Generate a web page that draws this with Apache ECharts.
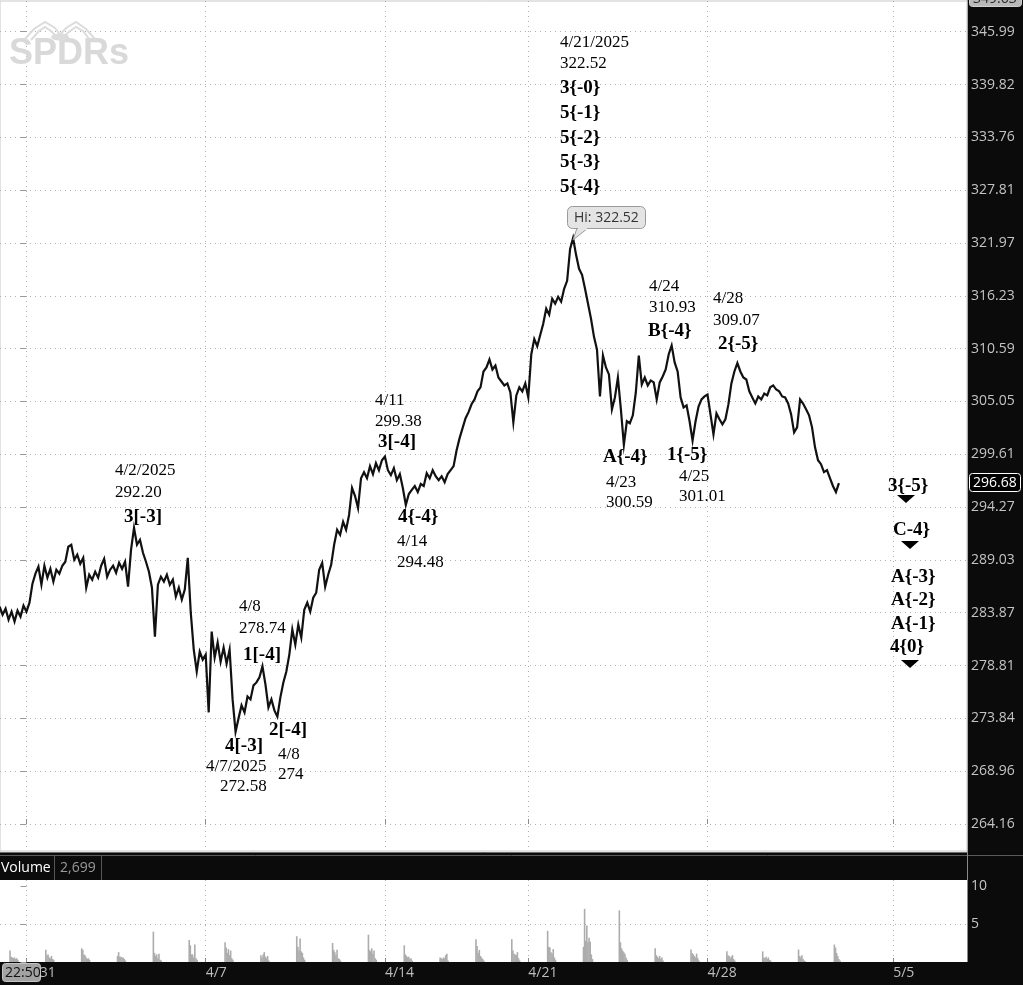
<!DOCTYPE html>
<html><head><meta charset="utf-8">
<script src="https://cdn.jsdelivr.net/npm/echarts@6/dist/echarts.min.js"></script>
<style>html,body{margin:0;padding:0;background:#fff;overflow:hidden}#c{width:1023px;height:985px;}</style>
</head><body><div id="c"></div>
<script>
// ---------------- DATA ----------------
const priceTickLabels = ['264.16','268.96','273.84','278.81','283.87','289.03','294.27','299.61','305.05','310.59','316.23','321.97','327.81','333.76','339.82','345.99'];
const dateLabels = ['3/31','4/7','4/14','4/21','4/28','5/5'];
const dateTickDays = [0, 5, 10, 14, 19, 24.18];   // trading-day index of each date label
const priceStartDay = -0.75;   // first sample (trading-day index)
const priceStepDay = 1 / 12;   // sampling interval (2 h)
const prices = [
284.45,283.68,284.26,283.20,283.97,283.01,284.07,283.49,284.55,283.97,
284.84,286.69,287.67,288.35,286.59,288.45,287.28,288.15,286.89,288.06,
287.67,288.45,288.84,290.32,290.52,289.03,289.53,288.64,289.23,286.30,
287.57,287.08,287.86,287.28,288.45,289.13,287.37,288.06,288.45,287.76,
288.74,288.15,288.84,286.40,290.02,292.20,290.52,291.01,289.73,288.84,
287.86,286.30,281.57,286.59,287.37,286.89,287.57,286.59,287.08,285.43,
286.30,285.14,286.11,289.23,283.87,280.33,278.25,280.14,279.37,279.85,
274.39,282.05,279.56,281.00,279.18,280.52,278.99,280.33,275.61,272.58,
273.84,275.05,274.39,275.89,275.61,276.93,277.21,277.68,278.74,277.02,
274.86,275.61,274.58,274.00,275.80,277.21,278.25,279.85,282.24,280.80,
282.72,281.48,284.16,284.84,283.97,285.33,285.81,288.06,288.74,286.40,
287.57,288.54,290.52,292.01,291.51,292.80,292.01,293.48,296.19,295.38,
294.17,297.18,297.79,297.18,298.40,297.59,298.70,297.99,299.00,299.38,
297.99,297.49,298.20,296.98,297.59,296.19,294.48,295.58,295.99,296.39,
295.78,296.59,296.39,297.69,297.18,297.99,297.38,296.98,297.38,296.78,
297.59,297.99,298.40,300.02,301.26,302.29,303.32,303.94,304.76,305.26,
306.10,306.52,308.18,308.60,309.44,308.39,308.81,307.55,307.13,306.72,
306.93,305.98,302.89,305.68,306.52,306.10,306.93,305.47,309.97,311.61,
310.84,312.03,313.24,314.84,314.20,315.91,315.38,316.12,315.59,316.98,
317.85,321.32,322.52,320.67,319.15,318.50,316.98,315.38,313.77,311.84,
310.49,305.57,309.86,308.60,307.87,304.23,305.47,307.55,304.23,300.59,
303.00,302.79,303.61,305.98,309.86,306.82,307.55,306.72,307.24,307.03,
305.26,307.03,307.66,308.39,309.97,310.93,309.13,308.18,305.47,304.43,
304.64,303.00,301.01,303.00,304.53,305.26,305.57,305.77,303.71,301.65,
303.81,303.20,302.68,303.20,304.74,306.93,308.18,309.07,308.18,307.55,
307.34,306.10,305.47,304.84,305.57,305.26,305.88,305.68,306.52,306.72,
306.29,306.10,305.57,305.47,304.84,303.71,301.86,302.37,305.26,304.84,
304.23,303.61,302.37,300.32,299.00,298.60,297.79,297.99,297.18,296.39,
295.78,296.68
];
const volumeBurstDays = [-0.46,0.54,1.54,2.54,3.54,4.54,5.54,6.54,7.54,8.54,9.54,10.54,11.54,12.54,13.54,14.54,15.54,16.54,17.54,18.54,19.54,20.54,21.54,22.54];
const volumeStepDay = 1 / 32;
const volumeBurstValues = [
[1.5,0.7,0.6,0.5,0.6,0.4,0.5,0.3],
[1.6,0.9,1.0,0.6,0.5,0.8,0.4,0.3],
[1.8,1.6,1.0,0.9,0.6,0.4,0.5,0.3],
[0.8,1.3,0.7,0.7,0.6,0.6,0.4,0.2],
[4.0,1.2,0.8,1.0,0.5,1.1,0.3,0.2],
[2.9,2.2,1.0,1.0,0.6,2.3,0.5,0.3],
[2.6,1.9,1.2,1.7,0.9,1.5,0.5,0.3],
[0.9,0.6,1.0,1.3,0.7,0.5,0.8,0.2],
[3.4,2.0,1.5,3.1,1.4,1.2,0.6,0.3],
[2.5,1.6,1.3,0.9,1.6,0.5,0.4,0.2],
[3.6,1.6,1.4,1.8,1.1,1.5,0.5,0.3],
[2.2,1.0,0.8,0.6,0.7,0.4,0.5,0.2],
[0.6,0.5,0.4,0.6,0.5,0.9,1.1,0.2],
[3.0,2.1,1.2,1.6,0.8,0.6,0.4,0.2],
[3.0,1.5,1.1,1.0,0.9,1.3,0.5,0.2],
[4.1,2.0,1.9,1.3,1.1,1.7,0.6,0.3],
[2.0,7.0,2.8,4.8,2.6,3.2,2.7,1.0,0.4],
[6.8,2.6,1.8,1.5,1.3,1.1,0.6,0.3],
[1.8,0.9,0.7,0.5,0.8,0.4,0.6,0.2],
[1.65,1.2,1.0,0.8,0.6,1.1,0.5,0.2],
[1.4,0.9,0.8,0.5,0.7,0.9,0.4,0.2],
[1.4,0.6,0.5,0.7,0.4,0.6,0.3,0.2],
[1.65,0.8,0.6,0.9,0.4,0.2,0.1],
[2.3,1.9,1.2,0.8,0.4,0.2]
];
const volumeTickLabels = ['', '5', '10'];
const volumeTickValues = [0, 5, 10];
const lastPriceText = '296.68';
const topPriceText = '349.63';
const highText = 'Hi: 322.52';
const volumeText = '2,699';
const timeText = '22:50';

// annotations: [text, x, centerY, bold]
const annotations = [
 ['4/21/2025',560,43,0],['322.52',560,64,0],['3{-0}',560,88,1],['5{-1}',560,113,1],['5{-2}',560,138,1],['5{-3}',560,162,1],['5{-4}',560,187,1],
 ['4/2/2025',115,471,0],['292.20',115,493,0],['3[-3]',124,517,1],
 ['4/8',239,607,0],['278.74',239,629,0],['1[-4]',243,655,1],
 ['4[-3]',225,746,1],['4/7/2025',206,767,0],['272.58',220,787,0],
 ['2[-4]',269,730,1],['4/8',278,755,0],['274',278,775,0],
 ['4/11',375,401,0],['299.38',375,422,0],['3[-4]',378,442,1],
 ['4{-4}',398,517,1],['4/14',397,542,0],['294.48',397,563,0],
 ['4/24',649,287,0],['310.93',649,308,0],['B{-4}',648,331,1],
 ['4/28',713,299,0],['309.07',713,321,0],['2{-5}',718,344,1],
 ['A{-4}',603,457,1],['4/23',606,483,0],['300.59',606,503,0],
 ['1{-5}',667,455,1],['4/25',679,477,0],['301.01',679,497,0],
 ['3{-5}',888,486,1],['C-4}',893,530,1],['A{-3}',891,577,1],['A{-2}',891,600,1],['A{-1}',891,624,1],['4{0}',890,647,1]
];
const triangles = [[906,499],[910,545],[910,664]];

// ---------------- CHART ----------------
const BASE = Number(priceTickLabels[0]);
const LSTEP = Math.log(Number(priceTickLabels[priceTickLabels.length-1]) / BASE) / (priceTickLabels.length - 1);
const toAxis = p => Math.log(p / BASE) / LSTEP;
const priceTickIdx = priceTickLabels.map((_, i) => i);

const priceData = prices.map((p, i) => [priceStartDay + i * priceStepDay, toAxis(p)]);
const volData = [];
volumeBurstValues.forEach((arr, b) => arr.forEach((v, j) => volData.push([volumeBurstDays[b] + j * volumeStepDay, v])));

const X_MIN = -0.739, X_MAX = 26.24;
const grid0 = {left: 0, right: 56, top: 1, height: 850};
const grid1 = {left: 0, right: 56, top: 880, height: 82};
const sans = '"Open Sans", "Noto Sans", sans-serif';
const serif = '"Liberation Serif", "DejaVu Serif", serif';
const dots = {color: '#b0b0b0', type: [1, 4], width: 1};

const dateFmt = v => { const i = dateTickDays.findIndex(d => Math.abs(d - v) < 1e-6); return i >= 0 ? dateLabels[i] : ''; };

function T(text, x, y, font, fill, opts) {
  return Object.assign({type: 'text', x: x, y: y, z: 100, silent: true,
    style: {text: text, font: font, fill: fill, align: 'left', textAlign: 'left', verticalAlign: 'middle', textVerticalAlign: 'middle'}}, opts || {});
}
const graphics = [];
// dark bands
graphics.push({type: 'rect', z: -5, shape: {x: 967, y: 0, width: 56, height: 985}, style: {fill: '#0b0b0b'}});
graphics.push({type: 'rect', z: -5, shape: {x: 0, y: 852, width: 1023, height: 28}, style: {fill: '#0b0b0b'}});
graphics.push({type: 'rect', z: -5, shape: {x: 0, y: 962, width: 1023, height: 23}, style: {fill: '#0b0b0b'}});
graphics.push({type: 'line', z: -4, shape: {x1: 0, y1: 852.5, x2: 967, y2: 852.5}, style: {stroke: '#6a6a6a', lineWidth: 1}});
graphics.push({type: 'line', z: -4, shape: {x1: 0, y1: 855.5, x2: 1023, y2: 855.5}, style: {stroke: '#5a5a5a', lineWidth: 1}});
graphics.push({type: 'line', z: -4, shape: {x1: 54.5, y1: 856, x2: 54.5, y2: 880}, style: {stroke: '#555', lineWidth: 1}});
graphics.push({type: 'line', z: -4, shape: {x1: 101.5, y1: 856, x2: 101.5, y2: 880}, style: {stroke: '#555', lineWidth: 1}});
graphics.push({type: 'line', z: -4, shape: {x1: 967.5, y1: 0, x2: 967.5, y2: 962}, style: {stroke: '#8a8a8a', lineWidth: 1}});
graphics.push(T('Volume', 1, 868, '14px ' + sans, '#ffffff'));
graphics.push(T(volumeText, 60, 868, '14px ' + sans, '#9a9a9a'));
// watermark logo
graphics.push({type: 'text', z: 1, x: 9, y: 54, silent: true, style: {text: 'SPDRs', font: 'bold 36px "Liberation Sans", Arial, sans-serif', fill: '#d9d9d9', align: 'left', textAlign: 'left', verticalAlign: 'middle', textVerticalAlign: 'middle'}});
[[[24,40],[34,29],[45,22],[55,28],[62,37]], [[31,40],[39,31],[45,27],[51,31],[57,37]], [[58,37],[66,28],[76,22],[86,29],[96,40]], [[63,37],[70,31],[76,27],[83,31],[90,40]]].forEach(pts =>
  graphics.push({type: 'polyline', z: 1, silent: true, shape: {points: pts}, style: {stroke: '#dcdcdc', lineWidth: 2, fill: null}}));
graphics.push({type: 'ellipse', z: 1, silent: true, shape: {cx: 60, cy: 37, rx: 9, ry: 3.5}, style: {fill: '#dcdcdc'}});
// annotations
annotations.forEach(a => graphics.push(T(a[0], a[1], a[2], (a[3] ? 'bold 19px ' : '17px ') + serif, '#000')));
triangles.forEach(t => graphics.push({type: 'polygon', z: 100, silent: true, shape: {points: [[t[0]-9, t[1]-4], [t[0]+9, t[1]-4], [t[0], t[1]+4]]}, style: {fill: '#000'}}));
// Hi callout
graphics.push({type: 'polygon', z: 99, silent: true, shape: {points: [[577, 228], [588, 228], [573, 240]]}, style: {fill: '#e4e4e4', stroke: '#9a9a9a', lineWidth: 1}});
graphics.push({type: 'rect', z: 100, silent: true, shape: {x: 567.5, y: 206.5, width: 78, height: 22, r: 5}, style: {fill: '#e4e4e4', stroke: '#9a9a9a', lineWidth: 1}});
graphics.push({type: 'rect', z: 101, silent: true, shape: {x: 578, y: 227, width: 9, height: 3}, style: {fill: '#e4e4e4'}});
graphics.push(T(highText, 574, 218, '14px ' + sans, '#333', {z: 102}));
// price boxes on axis
graphics.push({type: 'rect', z: 100, silent: true, shape: {x: 969.5, y: -8.5, width: 52, height: 15, r: 3}, style: {fill: '#b9b9b9', stroke: '#d0d0d0', lineWidth: 1}});
graphics.push(T(topPriceText, 973, -1, '14px ' + sans, '#2a2a2a', {z: 101}));
graphics.push({type: 'rect', z: 100, silent: true, shape: {x: 969.5, y: 473.5, width: 51, height: 18, r: 3}, style: {fill: '#000', stroke: '#ffffff', lineWidth: 1}});
graphics.push(T(lastPriceText, 973, 483, '14px ' + sans, '#ffffff', {z: 101}));
// time box
graphics.push({type: 'rect', z: 100, silent: true, shape: {x: 2.5, y: 963.5, width: 38, height: 18, r: 3}, style: {fill: '#a3a3a3', stroke: '#c4c4c4', lineWidth: 1}});
graphics.push(T(timeText, 5, 973, '14px ' + sans, '#111', {z: 101}));

const option = {
  animation: false,
  backgroundColor: '#ffffff',
  grid: [
    Object.assign({show: true, borderColor: '#c8c8c8', borderWidth: 1, backgroundColor: '#fff'}, grid0),
    Object.assign({show: true, borderColor: 'transparent', borderWidth: 0, backgroundColor: '#fff'}, grid1)
  ],
  xAxis: [
    {type: 'value', gridIndex: 0, min: X_MIN, max: X_MAX, position: 'bottom',
     axisLine: {show: false},
     axisTick: {show: true, inside: true, length: 5, lineStyle: {color: '#8a8a8a'}, customValues: dateTickDays},
     axisLabel: {show: false, customValues: dateTickDays},
     splitLine: {show: true, lineStyle: dots}},
    {type: 'value', gridIndex: 1, min: X_MIN, max: X_MAX, position: 'bottom',
     axisLine: {show: false},
     axisTick: {show: true, inside: true, length: 4, lineStyle: {color: '#8a8a8a'}, customValues: dateTickDays},
     axisLabel: {show: true, customValues: dateTickDays, formatter: dateFmt, color: '#bdbdbd', fontSize: 14, fontFamily: sans, align: 'left', margin: 4},
     splitLine: {show: true, lineStyle: dots}}
  ],
  yAxis: [
    {type: 'value', gridIndex: 0, position: 'right', min: toAxis(261.74), max: toAxis(Number(topPriceText)),
     axisLine: {show: false},
     axisTick: {show: true, inside: true, length: 6, lineStyle: {color: '#999'}, customValues: priceTickIdx},
     axisLabel: {show: true, customValues: priceTickIdx, margin: 4, color: '#c4c4c4', fontSize: 14, fontFamily: sans,
       formatter: v => { const r = Math.round(v); return Math.abs(v - r) < 0.01 && priceTickLabels[r] ? priceTickLabels[r] : ''; }},
     splitLine: {show: true, lineStyle: dots}},
    {type: 'value', gridIndex: 1, position: 'right', min: 0, max: 10.8,
     axisLine: {show: false},
     axisTick: {show: true, inside: true, length: 6, lineStyle: {color: '#999'}, customValues: volumeTickValues},
     axisLabel: {show: true, customValues: volumeTickValues, margin: 4, color: '#c4c4c4', fontSize: 14, fontFamily: sans,
       formatter: v => { const i = volumeTickValues.indexOf(v); return i >= 0 ? volumeTickLabels[i] : ''; }},
     splitLine: {show: true, lineStyle: {color: ['transparent', '#b0b0b0', 'transparent'], type: [1, 4], width: 1}}}
  ],
  series: [
    {type: 'line', xAxisIndex: 0, yAxisIndex: 0, data: priceData, symbol: 'none', clip: true,
     lineStyle: {color: '#111111', width: 2.2, join: 'miter'}, z: 5},
    {type: 'bar', xAxisIndex: 1, yAxisIndex: 1, data: volData, barWidth: 1.6, itemStyle: {color: '#acacac'}, z: 5}
  ],
  graphic: graphics
};
const chart = echarts.init(document.getElementById('c'), null, {renderer: 'canvas'});
chart.setOption(option);
</script></body></html>
